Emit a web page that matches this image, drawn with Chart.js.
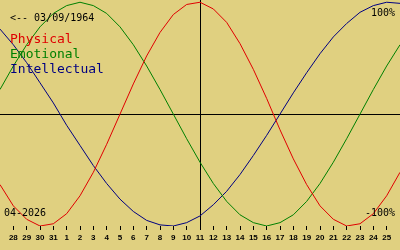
<!DOCTYPE html>
<html lang="en">
<head>
<meta charset="UTF-8">
<title>Biorhythm</title>
<script src="https://cdn.jsdelivr.net/npm/chart.js"></script>
<style>
    html, body { margin: 0; padding: 0; background: #e0d080; }
    canvas { display: block; }
</style>
</head>
<body>
<canvas id="bio" width="400" height="250"></canvas>
<script>
    // 27 Mar .. 26 Apr 2026, the first and last day only touch the edges
    const days = ['27', '28', '29', '30', '31',
        '1', '2', '3', '4', '5', '6', '7', '8', '9', '10', '11', '12', '13',
        '14', '15', '16', '17', '18', '19', '20', '21', '22', '23', '24', '25', '26'];
    const today = '11';
    const birthLabel = '<-- 03/09/1964';
    const monthLabel = '04-2026';

    // percent, one value per day
    const physical = [-63, -82, -94, -100, -98, -89, -73, -52, -27, 0, 27, 52, 73, 89, 98, 100,
        94, 82, 63, 40, 14, -14, -40, -63, -82, -94, -100, -98, -89, -73, -52];
    const emotional = [22, 43, 62, 78, 90, 97, 100, 97, 90, 78, 62, 43, 22, 0, -22, -43,
        -62, -78, -90, -97, -100, -97, -90, -78, -62, -43, -22, 0, 22, 43, 62];
    const intellectual = [76, 62, 46, 28, 10, -10, -28, -46, -62, -76, -87, -95, -99, -100, -97, -91,
        -81, -69, -54, -37, -19, 0, 19, 37, 54, 69, 81, 91, 97, 100, 99];

    const BG = '#e0d080';
    const RED = '#e00000';
    const GREEN = '#008000';
    const BLUE = '#000080';

    const decor = {
        id: 'decor',
        beforeDraw(chart) {
            const ctx = chart.ctx;
            ctx.save();
            ctx.fillStyle = BG;
            ctx.fillRect(0, 0, chart.width, chart.height);
            ctx.restore();
        },
        beforeDatasetsDraw(chart) {
            const {ctx, chartArea: a, scales: {x, y}} = chart;
            const tx = Math.round(x.getPixelForValue(days.indexOf(today))) + 0.5;
            const y0 = Math.round(y.getPixelForValue(0)) + 0.5;
            ctx.save();
            ctx.strokeStyle = '#000';
            ctx.lineWidth = 1;
            ctx.beginPath();
            ctx.moveTo(tx, a.top);
            ctx.lineTo(tx, a.bottom + 3);
            ctx.moveTo(a.left, y0);
            ctx.lineTo(a.right, y0);
            ctx.stroke();
            ctx.restore();
        },
        afterDraw(chart) {
            const ctx = chart.ctx;
            ctx.save();
            ctx.textBaseline = 'alphabetic';
            ctx.font = '10px "DejaVu Sans Mono"';
            ctx.fillStyle = '#000';
            ctx.fillText(birthLabel, 10, 21);
            ctx.fillText(monthLabel, 4, 216);
            ctx.textAlign = 'right';
            ctx.fillText('100%', 395, 16);
            ctx.fillText('-100%', 395, 216);
            ctx.textAlign = 'left';
            ctx.font = '13px "DejaVu Sans Mono"';
            ctx.fillStyle = RED;
            ctx.fillText('Physical', 10, 43);
            ctx.fillStyle = GREEN;
            ctx.fillText('Emotional', 10, 58);
            ctx.fillStyle = BLUE;
            ctx.fillText('Intellectual', 10, 73);
            ctx.restore();
        }
    };

    const line = (data, color) => ({
        data: data,
        borderColor: color,
        borderWidth: 1,
        pointRadius: 0,
        tension: 0,
        fill: false
    });

    new Chart(document.getElementById('bio'), {
        type: 'line',
        data: {
            labels: days,
            datasets: [line(physical, RED), line(emotional, GREEN), line(intellectual, BLUE)]
        },
        options: {
            responsive: false,
            animation: false,
            devicePixelRatio: 1,
            layout: { padding: 0 },
            plugins: { legend: { display: false }, tooltip: { enabled: false } },
            scales: {
                x: {
                    offset: false,
                    border: { display: false },
                    grid: { drawOnChartArea: false, drawTicks: true, tickLength: 4, color: '#000', lineWidth: 1 },
                    ticks: {
                        autoSkip: false, maxRotation: 0, padding: 3, color: '#000',
                        font: { family: 'Liberation Sans', size: 8, weight: 'bold' }
                    },
                    afterBuildTicks: s => { s.ticks = s.ticks.slice(1, -1); },
                    afterFit: s => { s.height = 24; }
                },
                y: { display: false, min: -100, max: 102 }
            }
        },
        plugins: [decor]
    });
</script>
</body>
</html>
